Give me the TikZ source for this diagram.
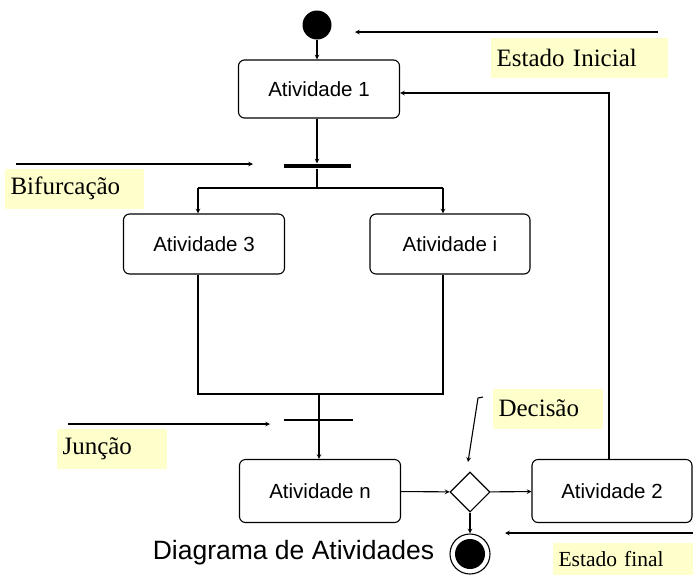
\documentclass[tikz,border=0pt]{standalone}
\usepackage{fontspec}
\setmainfont{Liberation Serif}
\setsansfont{Liberation Sans}
\usetikzlibrary{shapes.geometric}
\definecolor{notayellow}{RGB}{255,255,204}

\begin{document}
\begin{tikzpicture}[>=stealth, x=1pt, y=-1pt, line width=1.1pt,
  ativ/.style={draw, rounded corners=6pt, minimum width=161pt, minimum height=60pt, font=\sffamily\fontsize{20.5}{23}\selectfont},
  nota/.style={fill=notayellow, anchor=north west, minimum height=40pt, inner xsep=6pt, inner ysep=0pt, align=left, font=\fontsize{25}{28}\selectfont}]
  \useasboundingbox (0,0) rectangle (693,574);
  % estado inicial e atividade 1
  \node[circle, fill, inner sep=0pt, minimum size=29pt] (ini) at (317,25) {};
  \node[ativ, minimum height=58pt] (a1) at (319,89) {Atividade 1};
  \draw[->] (ini) -- (ini |- a1.north);
  % bifurcacao
  \node[fill, inner sep=0pt, minimum width=67pt, minimum height=4pt] (fork) at (317,166) {};
  \draw[->] (a1.south -| fork) -- (fork);
  \coordinate (f3) at (198,188);
  \coordinate (fi) at (443,188);
  \node[ativ] (a3) at (204,244) {Atividade 3};
  \node[ativ, minimum width=160pt] (ai) at (450,244) {Atividade i};
  \draw (fork) |- (f3);
  \draw (fork) |- (fi);
  \draw[->] (f3) -- (a3.north -| f3);
  \draw[->] (fi) -- (ai.north -| fi);
  % juncao
  \coordinate (j1) at (319,394);
  \node[fill, inner sep=0pt, minimum width=69pt, minimum height=1.2pt] (join) at (318,420) {};
  \node[ativ, minimum height=63pt] (an) at (320,491) {Atividade n};
  \draw (a3.south -| f3) |- (j1);
  \draw (ai.south -| fi) |- (j1);
  \draw[->] (j1) -- (j1 |- an.north);
  % decisao
  \node[diamond, draw, inner sep=0pt, minimum width=40pt, minimum height=40pt, fill=white] (dec) at (470,492) {};
  \node[ativ, minimum width=160pt, minimum height=63pt] (a2) at (612,491) {Atividade 2};
  \draw[->] (an) -- (dec);
  \draw[->] (dec) -- (a2);
  \draw[->] ([xshift=-3pt]a2.north) |- ([yshift=-4pt]a1.east);
  % estado final
  \node[circle, draw, inner sep=0pt, minimum size=40pt] (fim) at (470,554) {};
  \fill (fim.center) circle (15pt);
  \draw[->] (dec) -- (fim);
  \node[font=\sffamily\fontsize{26.5}{30}\selectfont, anchor=east] (titulo) at (438,553) {Diagrama de Atividades};
  % notas
  \node[nota, text width=165pt] (nIni) at (490,37) {Estado Inicial};
  \coordinate (pIni) at (658,32);
  \coordinate (qIni) at (355,32);
  \draw[->] (pIni) -- (qIni);
  \node[nota, text width=127pt] (nBif) at (4,168) {Bifurcação};
  \coordinate (pBif) at (16,164);
  \coordinate (qBif) at (253,164);
  \draw[->] (pBif) -- (qBif);
  \node[nota, text width=98pt] (nJun) at (56,428) {Junção};
  \coordinate (pJun) at (68,424);
  \coordinate (qJun) at (270,424);
  \draw[->] (pJun) -- (qJun);
  \node[nota, text width=98pt] (nDec) at (492,388) {Decisão};
  \coordinate (pDec) at (483,397);
  \coordinate (qDec) at (468,462);
  \draw[->] (pDec) -- (478,398) -- (qDec);
  \node[nota, text width=129pt, minimum height=32pt, font=\fontsize{21.5}{24}\selectfont] (nFim) at (552,542) {Estado final};
  \coordinate (pFim) at (693,533);
  \coordinate (qFim) at (505,533);
  \draw[->] (pFim) -- (qFim);
\end{tikzpicture}
\end{document}
